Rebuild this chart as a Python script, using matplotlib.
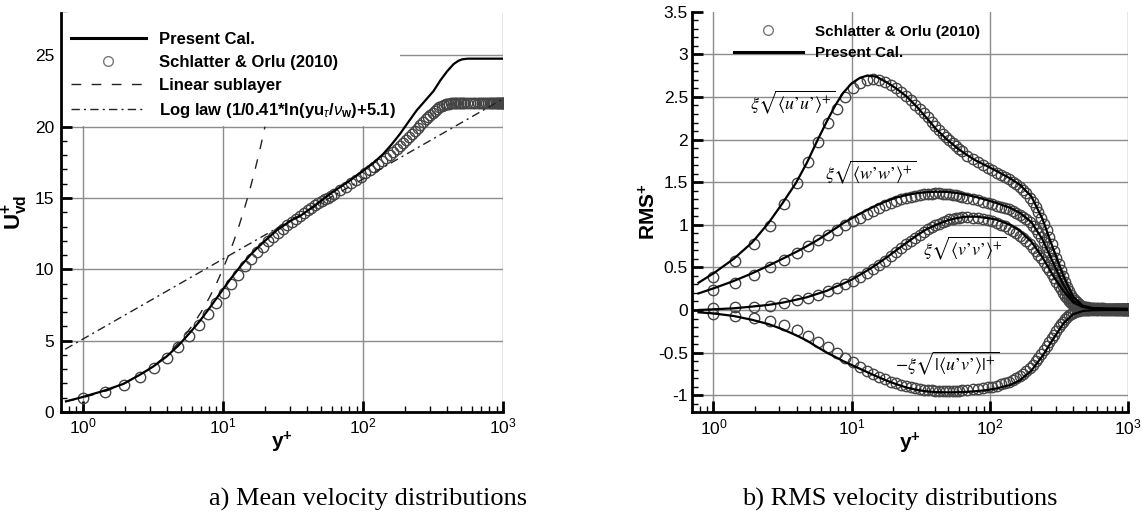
import matplotlib
matplotlib.use("Agg")
import matplotlib.pyplot as plt
from matplotlib.ticker import LogLocator, FixedLocator, MultipleLocator, NullFormatter
from matplotlib.patches import Rectangle
from matplotlib.lines import Line2D

# ---------------- data ----------------
# wall-normal positions of the Schlatter & Orlu (2010) DNS points
yplus_dns = [1.0, 1.44, 1.96, 2.55, 3.23, 3.99, 4.82, 5.74, 6.73, 7.80, 8.96, 10.18,
             11.49, 12.88, 14.34, 15.88, 17.50, 19.20, 20.97, 22.82, 24.75, 26.75, 28.83, 30.98,
             33.21, 35.51, 37.89, 40.34, 42.87, 45.47, 48.14, 50.88, 53.70, 56.59, 59.54, 62.57,
             68.86, 75.41, 82.23, 89.32, 96.68, 104.3, 112.2, 120.3, 128.7, 137.3, 146.2,
             155.2, 164.5, 174.1, 183.8, 193.8, 203.9, 214.3, 224.8, 235.5, 246.4, 257.5, 268.8,
             280.2, 291.2, 303.4, 315.2, 327.2, 339.3, 351.4, 363.7, 376.1, 388.6, 401.2, 413.9,
             426.6, 439.4, 452.2, 465.1, 478.0, 491.0, 504.0, 517.0, 530.0,
             556.0, 582.0, 607.8, 633.4, 658.8, 683.8, 708.6, 732.8, 756.6, 779.8, 802.5, 824.5,
             845.7, 866.2, 885.9, 904.8, 922.7, 939.7, 955.7, 970.7, 984.6, 997.4, 1009.1, 1019.7,
             1029.0, 1037.2, 1044.1, 1049.8, 1054.3, 1057.4, 1059.4]

u_dns = [1.00, 1.40, 1.88, 2.45, 3.08, 3.80, 4.55, 5.33, 6.10, 6.90, 7.65, 8.35,
         9.00, 9.62, 10.20, 10.75, 11.20, 11.60, 11.98, 12.30, 12.58, 12.84, 13.08, 13.32,
         13.55, 13.77, 13.97, 14.15, 14.32, 14.48, 14.63, 14.77, 14.90, 15.03, 15.15, 15.27,
         15.55, 15.80, 16.04, 16.27, 16.50, 16.72, 16.94, 17.15, 17.36, 17.57, 17.78,
         17.99, 18.20, 18.41, 18.62, 18.84, 19.06, 19.28, 19.50, 19.71, 19.92, 20.12, 20.32,
         20.51, 20.66, 20.80, 20.95, 21.10, 21.24, 21.36, 21.45, 21.52, 21.57, 21.60, 21.62,
         21.63, 21.64, 21.64, 21.65, 21.65, 21.65, 21.65, 21.65, 21.65,
         21.65, 21.65, 21.65, 21.65, 21.65, 21.65, 21.65, 21.65, 21.65, 21.65, 21.65, 21.65,
         21.65, 21.65, 21.65, 21.65, 21.65, 21.65, 21.65, 21.65, 21.65, 21.65, 21.65, 21.65,
         21.65, 21.65, 21.65, 21.65, 21.65, 21.65, 21.65]

uu_dns = [0.39, 0.575, 0.77, 0.99, 1.24, 1.49, 1.74, 1.97, 2.19, 2.36, 2.50, 2.60,
          2.66, 2.70, 2.71, 2.70, 2.68, 2.645, 2.605, 2.56, 2.51, 2.46, 2.41, 2.36,
          2.31, 2.26, 2.21, 2.16, 2.115, 2.07, 2.03, 1.99, 1.955, 1.92, 1.89, 1.86,
          1.81, 1.77, 1.735, 1.70, 1.67, 1.64, 1.61, 1.585, 1.56, 1.535, 1.505,
          1.475, 1.445, 1.41, 1.37, 1.32, 1.27, 1.21, 1.15, 1.08, 1.01, 0.935, 0.855,
          0.775, 0.695, 0.615, 0.54, 0.465, 0.395, 0.33, 0.27, 0.22, 0.18, 0.145, 0.115,
          0.09, 0.072, 0.058, 0.048, 0.041, 0.035, 0.031, 0.028, 0.026,
          0.024, 0.022, 0.020, 0.019, 0.018, 0.017, 0.016, 0.016, 0.015, 0.015, 0.014, 0.014,
          0.014, 0.013, 0.013, 0.013, 0.013, 0.012, 0.012, 0.012, 0.012, 0.012, 0.012, 0.012,
          0.012, 0.012, 0.012, 0.012, 0.012, 0.012, 0.012]

ww_dns = [0.235, 0.32, 0.41, 0.50, 0.586, 0.67, 0.75, 0.82, 0.88, 0.94, 0.995, 1.04,
          1.085, 1.13, 1.165, 1.20, 1.23, 1.255, 1.28, 1.30, 1.315, 1.33, 1.34, 1.35,
          1.357, 1.362, 1.366, 1.368, 1.368, 1.366, 1.363, 1.358, 1.352, 1.345, 1.338, 1.33,
          1.315, 1.30, 1.285, 1.27, 1.255, 1.24, 1.225, 1.21, 1.195, 1.18, 1.16,
          1.14, 1.12, 1.095, 1.065, 1.03, 0.99, 0.95, 0.905, 0.855, 0.80, 0.74, 0.675,
          0.61, 0.545, 0.475, 0.41, 0.345, 0.285, 0.23, 0.185, 0.145, 0.112, 0.088, 0.069,
          0.055, 0.045, 0.037, 0.031, 0.027, 0.024, 0.022, 0.020, 0.019,
          0.018, 0.017, 0.016, 0.016, 0.015, 0.015, 0.014, 0.014, 0.014, 0.013, 0.013, 0.013,
          0.013, 0.012, 0.012, 0.012, 0.012, 0.012, 0.012, 0.012, 0.012, 0.012, 0.012, 0.012,
          0.012, 0.012, 0.012, 0.012, 0.012, 0.012, 0.012]

vv_dns = [0.02, 0.03, 0.04, 0.05, 0.078, 0.115, 0.145, 0.18, 0.22, 0.26, 0.30, 0.34,
          0.385, 0.43, 0.48, 0.53, 0.58, 0.63, 0.68, 0.725, 0.77, 0.81, 0.85, 0.885,
          0.915, 0.945, 0.97, 0.995, 1.015, 1.035, 1.05, 1.062, 1.072, 1.08, 1.085, 1.09,
          1.09, 1.085, 1.078, 1.068, 1.055, 1.04, 1.02, 1.00, 0.98, 0.955, 0.93,
          0.90, 0.87, 0.84, 0.805, 0.77, 0.73, 0.69, 0.65, 0.605, 0.56, 0.51, 0.465,
          0.42, 0.375, 0.33, 0.285, 0.245, 0.205, 0.17, 0.14, 0.11, 0.087, 0.068, 0.055,
          0.045, 0.037, 0.031, 0.027, 0.024, 0.022, 0.020, 0.019, 0.018,
          0.017, 0.016, 0.016, 0.015, 0.015, 0.014, 0.014, 0.014, 0.013, 0.013, 0.013, 0.013,
          0.012, 0.012, 0.012, 0.012, 0.012, 0.012, 0.012, 0.012, 0.012, 0.012, 0.012, 0.012,
          0.012, 0.012, 0.012, 0.012, 0.012, 0.012, 0.012]

uv_dns = [-0.045, -0.065, -0.095, -0.13, -0.18, -0.235, -0.30, -0.37, -0.435, -0.50, -0.56, -0.615,
          -0.665, -0.71, -0.75, -0.785, -0.815, -0.84, -0.862, -0.88, -0.895, -0.908, -0.918, -0.927,
          -0.934, -0.939, -0.943, -0.946, -0.948, -0.949, -0.95, -0.95, -0.949, -0.947, -0.945, -0.943,
          -0.938, -0.932, -0.925, -0.917, -0.908, -0.898, -0.886, -0.872, -0.857, -0.84, -0.82,
          -0.798, -0.773, -0.745, -0.714, -0.68, -0.643, -0.603, -0.56, -0.515, -0.47, -0.423, -0.377,
          -0.332, -0.288, -0.245, -0.205, -0.168, -0.135, -0.106, -0.08, -0.06, -0.043, -0.03, -0.02,
          -0.013, -0.008, -0.005, -0.003, -0.001, 0.0, 0.0, 0.0, 0.0,
          0.0, 0.0, 0.0, 0.0, 0.0, 0.0, 0.0, 0.0, 0.0, 0.0, 0.0, 0.0,
          0.0, 0.0, 0.0, 0.0, 0.0, 0.0, 0.0, 0.0, 0.0, 0.0, 0.0, 0.0,
          0.0, 0.0, 0.0, 0.0, 0.0, 0.0, 0.0]

# present calculation, mean velocity
yplus_calc_u = [0.76, 1.0, 1.43, 1.94, 2.55, 3.18, 3.96, 4.81, 5.83, 6.88, 8.11, 9.57, 11.3,
                13.3, 15.7, 17.5, 20, 24.3, 31, 35.4, 45, 61.4, 80, 100, 120, 140, 160, 184,
                210, 242, 271, 319, 357, 400, 445, 480, 509, 560, 1000]
u_calc = [0.74, 1.05, 1.5, 1.96, 2.6, 3.18, 3.88, 4.65, 5.56, 6.4, 7.34, 8.32, 9.3,
          10.19, 11.0, 11.47, 12.0, 12.75, 13.45, 13.72, 14.45, 15.45, 16.2, 16.9, 17.5, 18.1, 18.75, 19.5,
          20.3, 21.15, 21.7, 22.5, 23.25, 23.9, 24.4, 24.62, 24.72, 24.77, 24.77]

# linear sublayer and log law reference lines
yplus_lin = [0.75, 1, 1.5, 2, 3, 4, 5, 6, 7, 8, 9, 10, 11, 12, 13, 14, 15, 16, 17, 18, 19, 20]
u_lin = [0.75, 1, 1.5, 2, 3, 4, 5, 6, 7, 8, 9, 10, 11, 12, 13, 14, 15, 16, 17, 18, 19, 20]
yplus_log = [0.75, 1000]
u_log = [4.40, 21.95]

# present calculation, RMS
yplus_calc_rms = [0.78, 1.0, 1.4, 1.9, 2.5, 3.15, 3.95, 4.75, 5.65, 6.6, 7.6, 8.7, 10, 11.5, 13,
                  15, 18, 21, 25, 30, 35, 41, 49, 58, 68, 80, 95, 112, 140, 165, 200, 240, 290,
                  340, 400, 470, 550, 700, 1000]
uu_calc = [0.32, 0.43, 0.60, 0.79, 1.02, 1.25, 1.49, 1.73, 1.99, 2.21, 2.40, 2.55, 2.66, 2.725, 2.75,
           2.74, 2.67, 2.60, 2.505, 2.375, 2.25, 2.12, 2.0, 1.90, 1.82, 1.75, 1.69, 1.63, 1.545, 1.47, 1.33, 1.07, 0.70,
           0.40, 0.155, 0.05, 0.024, 0.015, 0.012]
ww_calc = [0.195, 0.254, 0.34, 0.43, 0.52, 0.60, 0.68, 0.75, 0.82, 0.89, 0.955, 1.02, 1.075, 1.13, 1.175,
           1.225, 1.28, 1.32, 1.35, 1.372, 1.383, 1.388, 1.386, 1.372, 1.352, 1.325, 1.29, 1.255, 1.20, 1.14, 1.03, 0.83, 0.54,
           0.30, 0.11, 0.04, 0.02, 0.014, 0.012]
vv_calc = [0.0, 0.008, 0.02, 0.04, 0.06, 0.086, 0.12, 0.15, 0.19, 0.225, 0.27, 0.31, 0.356, 0.414, 0.465,
           0.53, 0.62, 0.70, 0.79, 0.88, 0.95, 1.0, 1.05, 1.08, 1.095, 1.095, 1.08, 1.06, 1.0, 0.93, 0.80, 0.62, 0.39,
           0.225, 0.09, 0.035, 0.02, 0.014, 0.012]
uv_calc = [-0.027, -0.04, -0.07, -0.115, -0.165, -0.225, -0.295, -0.36, -0.435, -0.50, -0.55, -0.60, -0.645, -0.69, -0.73,
           -0.775, -0.83, -0.87, -0.91, -0.94, -0.955, -0.963, -0.966, -0.965, -0.96, -0.952, -0.94, -0.92, -0.88, -0.825, -0.71, -0.54, -0.33,
           -0.16, -0.05, -0.012, -0.002, 0.0, 0.0]

for name, arr in [("u", u_dns), ("uu", uu_dns), ("ww", ww_dns), ("vv", vv_dns), ("uv", uv_dns)]:
    assert len(arr) == len(yplus_dns), (name, len(arr), len(yplus_dns))
for name, arr in [("uu", uu_calc), ("ww", ww_calc), ("vv", vv_calc), ("uv", uv_calc)]:
    assert len(arr) == len(yplus_calc_rms), (name, len(arr), len(yplus_calc_rms))
assert len(u_calc) == len(yplus_calc_u)

left_yticks = [0, 5, 10, 15, 20, 25]
right_yticks = [-1, -0.5, 0, 0.5, 1, 1.5, 2, 2.5, 3, 3.5]
right_yticklabels = ["-1", "-0.5", "0", "0.5", "1", "1.5", "2", "2.5", "3", "3.5"]

# ---------------- style ----------------
plt.rcParams.update({
    "font.family": ["Liberation Sans", "DejaVu Sans"],
    "mathtext.fontset": "custom",
    "mathtext.rm": "Liberation Sans",
    "mathtext.bf": "Liberation Sans:bold",
    "mathtext.it": "Liberation Sans:italic",
    "mathtext.sf": "Liberation Sans",
})

GRID = "#8c8c8c"
CIRC = "#454545"

fig = plt.figure(figsize=(11.42, 5.16), dpi=100)
axL = fig.add_axes([0.0534, 0.2016, 0.3871, 0.7740])
axR = fig.add_axes([0.6060, 0.2010, 0.3818, 0.7763])


def style(ax):
    ax.set_xscale("log")
    ax.set_xlim(0.7, 1000)
    for s in ("top", "right"):
        ax.spines[s].set_visible(False)
    for s in ("left", "bottom"):
        ax.spines[s].set_linewidth(2)
    ax.xaxis.set_major_locator(LogLocator(base=10, numticks=10))
    ax.xaxis.set_minor_locator(LogLocator(base=10, subs=(2, 3, 4, 5, 6, 7, 8, 9), numticks=30))
    ax.xaxis.set_minor_formatter(NullFormatter())
    ax.tick_params(which="major", direction="in", length=8, width=2, labelsize=12.5)
    ax.tick_params(which="minor", direction="in", length=4, width=1)
    ax.grid(True, which="major", color=GRID, lw=1)


style(axL)
style(axR)

# ---------------- left panel ----------------
axL.set_ylim(0, 28)
axL.yaxis.set_major_locator(FixedLocator(left_yticks))
axL.yaxis.set_minor_locator(MultipleLocator(1))
axL.tick_params(axis="y", pad=5)

axL.plot(yplus_dns, u_dns, ls="none", marker="o", ms=7.5, mfc="none", mec=CIRC, mew=1.0, zorder=2)
axL.plot(yplus_lin, u_lin, color="#222222", lw=1.0, dashes=(7, 7.5), zorder=3)
axL.plot(yplus_log, u_log, color="#222222", lw=1.0, dashes=(6, 3, 1.5, 3), zorder=3)
axL.plot(yplus_calc_u, u_calc, color="black", lw=1.6, zorder=4)

axL.add_patch(Rectangle((0, 20.08 / 28), 0.768, 1 - 20.08 / 28, transform=axL.transAxes,
                        facecolor="white", edgecolor="none", zorder=1.8))

hL = [Line2D([], [], color="black", lw=2.2),
      Line2D([], [], ls="none", marker="o", ms=7, mfc="none", mec="#777777", mew=1),
      Line2D([], [], color="#222222", lw=1.0, dashes=(7, 7.5)),
      Line2D([], [], color="#222222", lw=1.0, dashes=(6, 3, 1.5, 3))]
labL = ["Present Cal.", "Schlatter & Orlu (2010)", "Linear sublayer",
        r"Log law (1/0.41*ln(yu$_{\tau}$/$\nu_{\mathbf{w}}$)+5.1)"]
axL.legend(hL, labL, loc="upper left", bbox_to_anchor=(0.0226, 0.952), frameon=False,
           prop={"weight": "bold", "size": 12}, handlelength=4.5, handletextpad=0.8,
           labelspacing=0.48, borderpad=0, borderaxespad=0)

axL.set_xlabel(r"$\mathbf{y}^{\mathbf{+}}$", fontsize=15)
axL.xaxis.set_label_coords(0.5, -0.045)
axL.set_ylabel(r"$\mathbf{U}_{\mathbf{vd}}^{\mathbf{+}}$", fontsize=16)
axL.yaxis.set_label_coords(-0.07, 0.5)

# ---------------- right panel ----------------
axR.set_ylim(-1.2, 3.5)
axR.yaxis.set_major_locator(FixedLocator(right_yticks))
axR.set_yticklabels(right_yticklabels)
axR.yaxis.set_minor_locator(MultipleLocator(0.1))
axR.tick_params(axis="y", pad=3)
axR.yaxis.get_major_ticks()[-1].gridline.set_visible(False)

for series in (uu_dns, ww_dns, vv_dns, uv_dns):
    axR.plot(yplus_dns, series, ls="none", marker="o", ms=7.5, mfc="none", mec=CIRC, mew=1.0, zorder=2)
for series in (uu_calc, ww_calc, vv_calc, uv_calc):
    axR.plot(yplus_calc_rms, series, color="black", lw=1.6, zorder=4)

hR = [Line2D([], [], ls="none", marker="o", ms=7, mfc="none", mec="#777777", mew=1),
      Line2D([], [], color="black", lw=2.2)]
labR = ["Schlatter & Orlu (2010)", "Present Cal."]
axR.legend(hR, labR, loc="upper left", bbox_to_anchor=(0.0963, 0.968), frameon=False,
           prop={"weight": "bold", "size": 11}, handlelength=4.5, handletextpad=0.8,
           labelspacing=0.5, borderpad=0, borderaxespad=0)

ann_kw = dict(fontsize=13, math_fontfamily="stix", ha="center", va="center", zorder=5)
axR.text(3.75, 2.44, "$\\xi\\sqrt{\\langle u\u2019u\u2019\\rangle^{+}}$", **ann_kw)
axR.text(13.85, 1.62, "$\\xi\\sqrt{\\langle w\u2019w\u2019\\rangle^{+}}$", **ann_kw)
axR.text(66.2, 0.72, "$\\xi\\sqrt{\\langle v\u2019v\u2019\\rangle^{+}}$", **ann_kw)
axR.text(49.1, -0.63, "$-\\xi\\sqrt{|\\langle u\u2019v\u2019\\rangle|^{+}}$", **ann_kw)

axR.set_xlabel(r"$\mathbf{y}^{\mathbf{+}}$", fontsize=15)
axR.xaxis.set_label_coords(0.5, -0.045)
axR.set_ylabel(r"$\mathbf{RMS}^{\mathbf{+}}$", fontsize=15)
axR.yaxis.set_label_coords(-0.075, 0.5)

# ---------------- captions ----------------
fig.text(368 / 1142, 10 / 516, "a) Mean velocity distributions", ha="center", va="baseline",
         fontsize=19, family="Liberation Serif")
fig.text(900 / 1142, 10 / 516, "b) RMS velocity distributions", ha="center", va="baseline",
         fontsize=19, family="Liberation Serif")

fig.savefig("out.png", dpi=100)
